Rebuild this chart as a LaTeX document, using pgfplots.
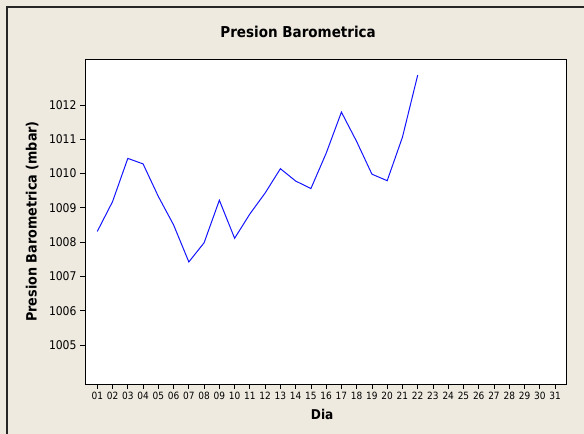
\documentclass[border=0pt]{standalone}
\usepackage{pgfplots}
\pgfplotsset{compat=1.18}
\usepackage{fontspec}
\setmainfont{DejaVu Sans Condensed}
\definecolor{bg}{RGB}{238,234,224}
\definecolor{lineblue}{RGB}{20,20,255}
\begin{document}
\begin{tikzpicture}[x=1bp,y=1bp]
\useasboundingbox (0,0) rectangle (584,434);
\fill[bg] (0,0) rectangle (584,434);
\draw[line width=1.5bp, black!85] (7,0) -- (7,427) -- (584,427);
\begin{axis}[
  at={(85bp,50bp)}, anchor=south west,
  scale only axis, width=481bp, height=325bp,
  xmin=0.194, xmax=31.72, ymin=1003.86, ymax=1013.34,
  axis background/.style={fill=white},
  axis line style={line width=0.9bp},
  tick pos=left, tick align=outside,
  major tick length=5bp,
  tick style={line width=0.8bp, black},
  xtick={1,...,31},
  xticklabels={01,02,03,04,05,06,07,08,09,10,11,12,13,14,15,16,17,18,19,20,21,22,23,24,25,26,27,28,29,30,31},
  ytick={1005,...,1012},
  /pgf/number format/1000 sep={},
  /pgf/number format/assume math mode=true,
  yticklabel style={font=\fontsize{12bp}{14bp}\selectfont},
  xticklabel style={font=\fontsize{10bp}{12bp}\selectfont, yshift=0bp},
  title={Presion Barometrica},
  title style={at={(rel axis cs:0.443,1.066)}, anchor=center, font=\bfseries\fontsize{15bp}{17bp}\selectfont},
  xlabel={Dia},
  xlabel style={at={(axis description cs:0.493,-0.095)}, anchor=center, font=\bfseries\fontsize{13.5bp}{15bp}\selectfont},
  ylabel={Presion Barometrica (mbar)},
  ylabel style={at={(axis description cs:-0.110,0.5)}, anchor=center, font=\bfseries\fontsize{14.2bp}{16bp}\selectfont},
]
\addplot[lineblue, line width=1bp] coordinates {
(1,1008.31) (2,1009.18) (3,1010.44) (4,1010.28) (5,1009.33) (6,1008.50)
(7,1007.42) (8,1007.98) (9,1009.22) (10,1008.11) (11,1008.82) (12,1009.43)
(13,1010.14) (14,1009.78) (15,1009.56) (16,1010.59) (17,1011.79) (18,1010.93)
(19,1009.98) (20,1009.79) (21,1011.06) (22,1012.87)
};
\end{axis}
\end{tikzpicture}
\end{document}
